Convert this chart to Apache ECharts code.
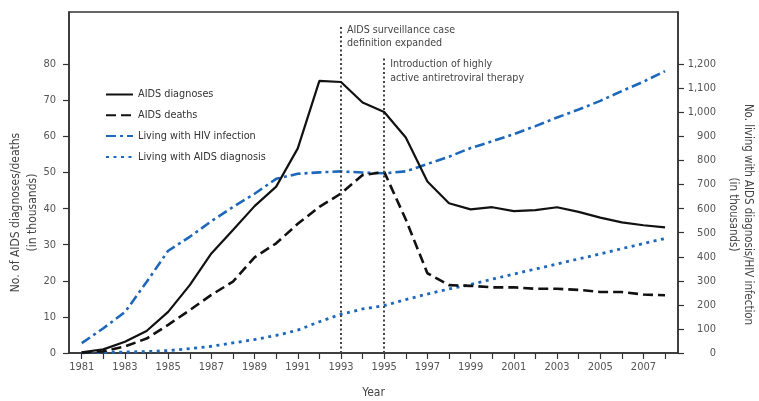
<!DOCTYPE html>
<html><head><meta charset="utf-8">
<script src="https://cdn.jsdelivr.net/npm/echarts@6/dist/echarts.min.js"></script>
<style>html,body{margin:0;padding:0;background:#fff}#c{width:759px;height:401px}</style>
</head><body><div id="c"></div>
<script>
const years = [1981,1982,1983,1984,1985,1986,1987,1988,1989,1990,1991,1992,1993,1994,1995,1996,1997,1998,1999,2000,2001,2002,2003,2004,2005,2006,2007,2008];
const aidsDiagnoses = [0.2,1.0,3.1,6.1,11.4,18.8,27.6,34.1,40.7,46.1,56.7,75.4,75.1,69.4,66.8,59.7,47.5,41.5,39.8,40.4,39.3,39.6,40.4,39.1,37.5,36.2,35.4,34.8];
const aidsDeaths = [0.1,0.5,1.8,4.0,7.8,11.9,16.1,19.8,26.5,30.4,35.8,40.5,44.2,49.3,50.2,37.0,22.1,18.8,18.6,18.2,18.2,17.8,17.8,17.5,16.9,16.9,16.2,16.0];
const livingHIV = [41,103,170,295,425,483,548,607,662,724,745,751,755,750,747,755,786,816,852,880,910,943,979,1012,1048,1089,1128,1172];
const livingAIDS = [1,2,4,6,10,18,28,42,56,73,95,130,161,183,197,222,245,266,285,307,328,349,370,391,412,434,455,476];
const xLabelYears = [1981,1983,1985,1987,1989,1991,1993,1995,1997,1999,2001,2003,2005,2007];
const leftTicks = [0,10,20,30,40,50,60,70,80];
const rightTicks = [0,100,200,300,400,500,600,700,800,900,1000,1100,1200];
const events = [
  {year:1993, top:90.9, text:'AIDS surveillance case\ndefinition expanded'},
  {year:1995, top:81.7, text:'Introduction of highly\nactive antiretroviral therapy'}
];

const FONT = '"Liberation Sans Narrow","DejaVu Sans Condensed","Liberation Sans",sans-serif';
const BLUE = '#1d68bb';
const pair = arr => years.map((y,i)=>[y,arr[i]]);

const chart = echarts.init(document.getElementById('c'), null, {renderer:'canvas'});
chart.setOption({
  animation:false,
  backgroundColor:'#fff',
  textStyle:{fontFamily:FONT},
  grid:{left:69,right:81,top:12,bottom:48,show:true,borderColor:'#333',borderWidth:1.5,
        backgroundColor:'transparent',containLabel:false,outerBoundsMode:'none'},
  legend:{
    orient:'vertical', left:100, top:84, itemWidth:27, itemHeight:12, itemGap:9.8,
    itemStyle:{color:'rgba(0,0,0,0)',borderWidth:0},
    textStyle:{fontFamily:FONT,fontSize:10.8,color:'#333'},
    data:['AIDS diagnoses','AIDS deaths','Living with HIV infection','Living with AIDS diagnosis']
  },
  xAxis:{
    type:'value', min:1980.41, max:2008.6,
    axisLine:{show:true,lineStyle:{color:'#333',width:1.5}},
    axisTick:{show:true,customValues:years,length:6,lineStyle:{color:'#333',width:1.2}},
    axisLabel:{customValues:xLabelYears,formatter:v=>String(v),color:'#555',fontSize:11,margin:9,fontFamily:FONT},
    splitLine:{show:false},
    name:'Year', nameLocation:'middle', nameGap:34, nameMoveOverlap:false,
    nameTextStyle:{color:'#444',fontSize:12,fontFamily:FONT}
  },
  yAxis:[{
    type:'value', min:0, max:94.5, position:'left',
    axisLine:{show:true,lineStyle:{color:'#333',width:1.5}},
    axisTick:{show:true,customValues:leftTicks,length:6,lineStyle:{color:'#333',width:1.2}},
    axisLabel:{customValues:leftTicks,color:'#555',fontSize:11,margin:13,fontFamily:FONT},
    splitLine:{show:false},
    name:'No. of AIDS diagnoses/deaths\n(in thousands)', nameLocation:'middle', nameRotate:90, nameGap:28, nameMoveOverlap:false,
    nameTextStyle:{color:'#444',fontSize:12,lineHeight:17,fontFamily:FONT,padding:[0,60,0,0]}
  },{
    type:'value', min:0, max:1417.5, position:'right',
    axisLine:{show:true,lineStyle:{color:'#333',width:1.5}},
    axisTick:{show:true,customValues:rightTicks,length:6,lineStyle:{color:'#333',width:1.2}},
    axisLabel:{customValues:rightTicks,align:'right',margin:38,color:'#555',fontSize:11,fontFamily:FONT,
      formatter:v=>v.toLocaleString('en-US')},
    splitLine:{show:false},
    name:'No. living with AIDS diagnosis/HIV infection\n(in thousands)', nameLocation:'middle', nameRotate:-90, nameGap:47, nameMoveOverlap:false,
    nameTextStyle:{color:'#444',fontSize:11.4,lineHeight:15,fontFamily:FONT,padding:[0,0,0,64]}
  }],
  series:[
    {name:'AIDS diagnoses',type:'line',yAxisIndex:0,data:pair(aidsDiagnoses),symbol:'none',
     lineStyle:{color:'#111',width:2.2},itemStyle:{color:'#111'},z:5,
     markLine:{silent:true,symbol:['none','none'],label:{show:false},
       lineStyle:{color:'#444',width:2,type:[2,2.5]},
       data:events.map(e=>[{coord:[e.year,0]},{coord:[e.year,e.top]}])}},
    {name:'AIDS deaths',type:'line',yAxisIndex:0,data:pair(aidsDeaths),symbol:'none',
     lineStyle:{color:'#111',width:2.6,type:[10,5]},itemStyle:{color:'#111'},z:4},
    {name:'Living with HIV infection',type:'line',yAxisIndex:1,data:pair(livingHIV),symbol:'none',
     lineStyle:{color:BLUE,width:2.6,type:[10,4,3,4]},itemStyle:{color:BLUE},z:3},
    {name:'Living with AIDS diagnosis',type:'line',yAxisIndex:1,data:pair(livingAIDS),symbol:'none',
     lineStyle:{color:BLUE,width:2.8,type:[3,4.5]},itemStyle:{color:BLUE},z:3}
  ]
});

const g = events.map((e,i)=>{
  const p = chart.convertToPixel({xAxisIndex:0,yAxisIndex:0},[e.year,e.top]);
  return {type:'text', x:p[0]+6, y:p[1]-1,
    style:{text:e.text, fill:'#444', font:'10.6px '+FONT, lineHeight:i===0?13:14, textVerticalAlign:'top'}};
});
chart.setOption({graphic:g});
</script>
</body></html>
